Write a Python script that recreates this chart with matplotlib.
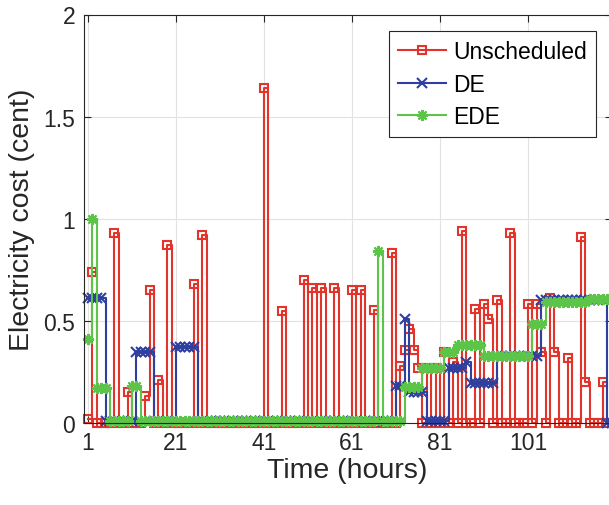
import numpy as np
import matplotlib
matplotlib.use('Agg')
import matplotlib.pyplot as plt

plt.rcParams['font.family'] = ['Liberation Sans', 'DejaVu Sans']

# hourly electricity cost (cent), hours 1..120
hours = np.arange(1, 121)

unscheduled = [
    0.02, 0.74, 0, 0, 0, 0, 0.93, 0, 0, 0.15,
    0, 0, 0, 0.13, 0.65, 0, 0.21, 0, 0.87, 0,
    0, 0, 0, 0, 0.68, 0, 0.92, 0, 0, 0,
    0, 0, 0, 0, 0, 0, 0, 0, 0, 0,
    1.64, 0, 0, 0, 0.55, 0, 0, 0, 0, 0.70,
    0, 0.66, 0, 0.66, 0, 0, 0.66, 0, 0, 0,
    0.65, 0, 0.65, 0, 0, 0.555, 0, 0, 0, 0.83,
    0, 0.28, 0.355, 0.46, 0.355, 0.27, 0, 0.27, 0, 0.27,
    0, 0.35, 0, 0.30, 0, 0.94, 0, 0, 0.56, 0,
    0.585, 0.51, 0, 0.60, 0, 0, 0.93, 0, 0, 0,
    0.585, 0, 0.585, 0.35, 0, 0.61, 0.35, 0, 0, 0.32,
    0, 0, 0.91, 0.20, 0, 0, 0, 0.20, 0, 0,
]

de = [
    0.61, 0.61, 0.61, 0.61, 0.01, 0.01, 0.01, 0.01, 0.01, 0.01,
    0.01, 0.35, 0.35, 0.35, 0.35, 0.01, 0.01, 0.01, 0.01, 0.01,
    0.37, 0.37, 0.37, 0.37, 0.37, 0.01, 0.01, 0.01, 0.01, 0.01,
    0.01, 0.01, 0.01, 0.01, 0.01, 0.01, 0.01, 0.01, 0.01, 0.01,
    0.01, 0.01, 0.01, 0.01, 0.01, 0.01, 0.01, 0.01, 0.01, 0.01,
    0.01, 0.01, 0.01, 0.01, 0.01, 0.01, 0.01, 0.01, 0.01, 0.01,
    0.01, 0.01, 0.01, 0.01, 0.01, 0.01, 0.01, 0.01, 0.01, 0.01,
    0.18, 0.18, 0.51, 0.15, 0.15, 0.15, 0.15, 0.01, 0.01, 0.01,
    0.01, 0.01, 0.27, 0.27, 0.27, 0.27, 0.30, 0.195, 0.195, 0.195,
    0.195, 0.195, 0.195, 0.33, 0.33, 0.33, 0.33, 0.33, 0.33, 0.33,
    0.33, 0.33, 0.33, 0.60, 0.60, 0.60, 0.60, 0.60, 0.60, 0.60,
    0.60, 0.60, 0.60, 0.60, 0.60, 0.60, 0.60, 0.60, 0, 0,
]

ede = [
    0.41, 1.0, 0.17, 0.17, 0.17, 0.01, 0.01, 0.01, 0.01, 0.01,
    0.18, 0.18, 0.01, 0.01, 0.01, 0.01, 0.01, 0.01, 0.01, 0.01,
    0.01, 0.01, 0.01, 0.01, 0.01, 0.01, 0.01, 0.01, 0.01, 0.01,
    0.01, 0.01, 0.01, 0.01, 0.01, 0.01, 0.01, 0.01, 0.01, 0.01,
    0.01, 0.01, 0.01, 0.01, 0.01, 0.01, 0.01, 0.01, 0.01, 0.01,
    0.01, 0.01, 0.01, 0.01, 0.01, 0.01, 0.01, 0.01, 0.01, 0.01,
    0.01, 0.01, 0.01, 0.01, 0.01, 0.01, 0.84, 0.01, 0.01, 0.01,
    0.01, 0.01, 0.175, 0.175, 0.175, 0.175, 0.27, 0.27, 0.27, 0.27,
    0.27, 0.35, 0.35, 0.35, 0.38, 0.38, 0.38, 0.38, 0.38, 0.38,
    0.33, 0.33, 0.33, 0.33, 0.33, 0.33, 0.33, 0.33, 0.33, 0.33,
    0.33, 0.485, 0.485, 0.485, 0.59, 0.59, 0.59, 0.59, 0.59, 0.59,
    0.59, 0.59, 0.59, 0.59, 0.605, 0.605, 0.605, 0.605, 0.605, 0.605,
]

xticks = [1, 21, 41, 61, 81, 101]
yticks = [0, 0.5, 1, 1.5, 2]
ytick_labels = ['0', '0.5', '1', '1.5', '2']

red = '#E3342B'
blue = '#2E3F9E'
green = '#5CC448'
axcol = '#262626'

fig = plt.figure(figsize=(6.09, 5.06), dpi=100)
ax = fig.add_axes([83.6 / 609, 82 / 506, 528 / 609, 408.5 / 506])

ax.step(hours, unscheduled, where='post', color=red, lw=1.5, marker='s',
        ms=6, mfc='none', mew=1.5, label='Unscheduled', clip_on=False)
ax.step(hours, de, where='post', color=blue, lw=1.5, marker='x',
        ms=7, mew=1.5, label='DE', clip_on=False)
ax.step(hours, ede, where='post', color=green, lw=1.5, marker=(8, 2, 0),
        ms=8, mew=1.5, label='EDE', clip_on=False)

ax.set_xlim(0, 120)
ax.set_ylim(0, 2)
ax.set_xticks(xticks)
ax.set_xticklabels([str(t) for t in xticks])
ax.set_yticks(yticks)
ax.set_yticklabels(ytick_labels)
ax.grid(True, color='#e2e2e2', lw=0.8)
ax.set_axisbelow(True)

ax.tick_params(direction='in', length=5, width=0.8, colors=axcol,
               labelsize=16.5, top=True, right=True, pad=6)
for s in ax.spines.values():
    s.set_color(axcol)
    s.set_linewidth(0.8)

ax.set_xlabel('Time (hours)', fontsize=20.5, color=axcol, labelpad=2)
ax.set_ylabel('Electricity cost (cent)', fontsize=20.5, color=axcol, labelpad=6)

leg = ax.legend(loc='upper right', bbox_to_anchor=(0.970, 0.959),
                borderaxespad=0, fontsize=16.5, fancybox=False,
                handlelength=2.1, handletextpad=0.3, borderpad=0.4,
                labelspacing=0.4, framealpha=1)
leg.get_frame().set_edgecolor(axcol)
leg.get_frame().set_linewidth(0.8)

fig.savefig('out.png', dpi=100)
